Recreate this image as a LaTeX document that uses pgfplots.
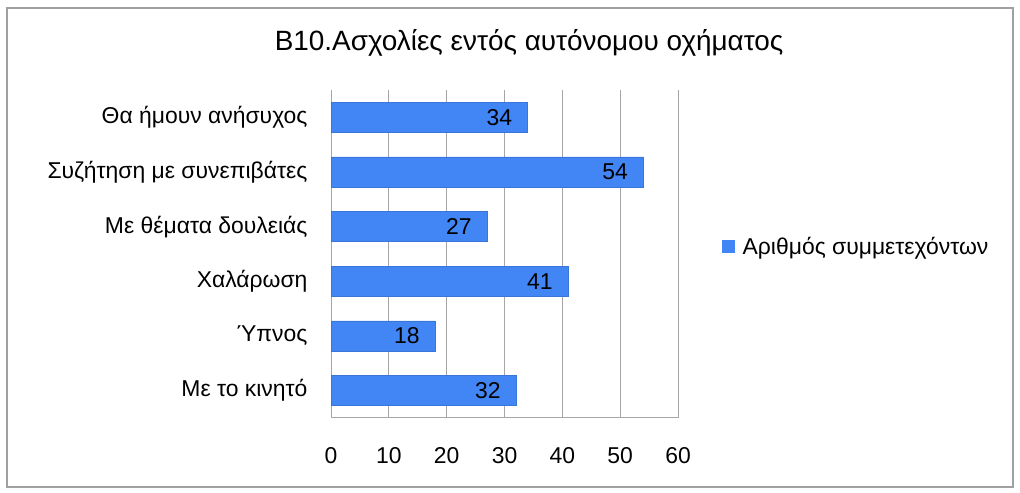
\documentclass[border=0pt]{standalone}
\usepackage{fontspec}
\setmainfont{Liberation Sans}
\usepackage{pgfplots}
\pgfplotsset{compat=1.18}
\definecolor{barblue}{HTML}{4285F4}
\definecolor{gridgray}{HTML}{A6A6A6}
\definecolor{framegray}{HTML}{A0A0A0}
\begin{document}
\begin{tikzpicture}[x=1bp,y=1bp]
\useasboundingbox (0,0) rectangle (1020,493);
\draw[framegray, line width=1.5bp] (7,6) rectangle (1013,485);
\begin{axis}[
  at={(331bp,75bp)}, anchor=south west,
  scale only axis, width=347bp, height=328bp,
  xbar, bar width=0.55,
  xmin=0, xmax=60, xtick={0,10,...,60},
  ymin=-0.5, ymax=5.5, ytick={0,...,5},
  yticklabels={Με το κινητό, Ύπνος, Χαλάρωση, Με θέματα δουλειάς, Συζήτηση με συνεπιβάτες, Θα ήμουν ανήσυχος},
  axis x line*=bottom, axis y line*=left,
  axis line style={gridgray, line width=1bp, -},
  major tick length=0pt,
  xmajorgrids, grid style={gridgray, line width=1bp},
  ticklabel style={font=\fontsize{23}{27}\selectfont},
  /pgf/number format/assume math mode=true,
  xticklabel style={yshift=-26bp},
  yticklabel style={xshift=-20bp},
  nodes near coords,
  every node near coord/.append style={anchor=east, xshift=-12bp, font=\fontsize{23}{27}\selectfont, black},
  title={Β10.Ασχολίες εντός αυτόνομου οχήματος},
  title style={at={(0.571,1.125)}, anchor=center, font=\fontsize{28}{32}\selectfont},
  legend style={at={(1.127,0.524)}, anchor=west, draw=none, font=\fontsize{23}{27}\selectfont, inner sep=0pt},
  legend image code/.code={\fill[barblue] (0bp,-6bp) rectangle (12bp,6bp);},
]
\addplot[fill=barblue, draw=barblue!80!black!60!barblue] coordinates {(34,5) (54,4) (27,3) (41,2) (18,1) (32,0)};
\addlegendentry{\hspace{6bp}Αριθμός συμμετεχόντων}
\end{axis}
\end{tikzpicture}
\end{document}
